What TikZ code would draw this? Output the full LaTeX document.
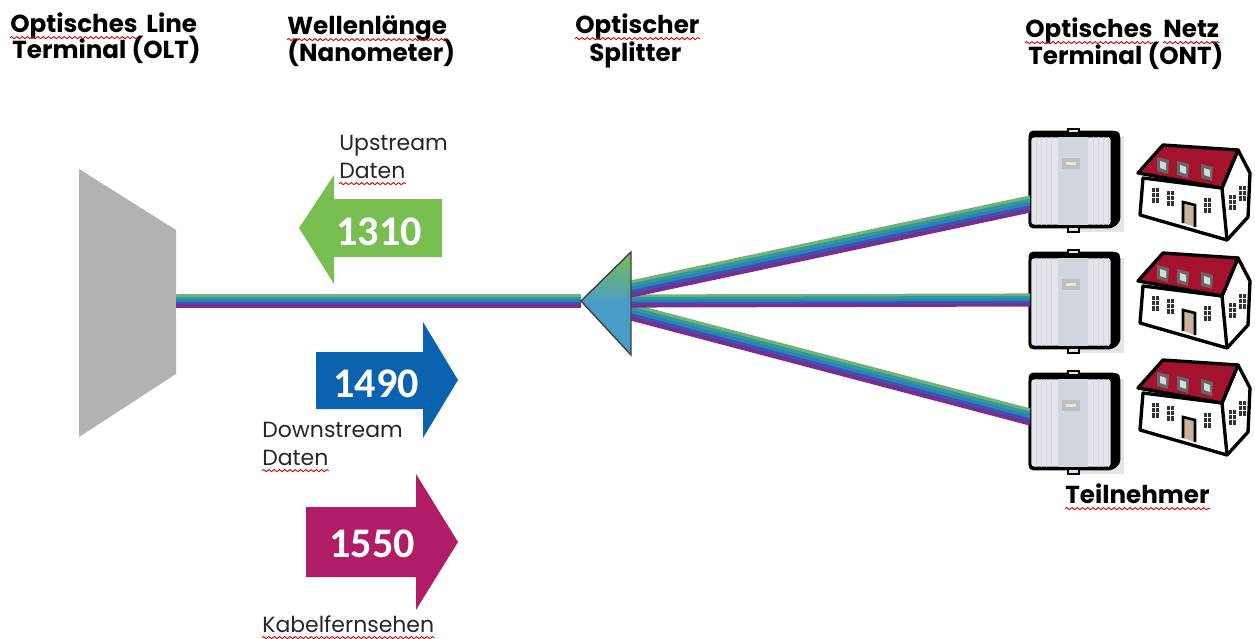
\documentclass[tikz,border=0pt]{standalone}
\usepackage{fontspec}
\setmainfont{Poppins}
\newfontfamily\numfont{Carlito}
\usepackage{xcolor}
\usetikzlibrary{calc, decorations.pathmorphing}
\definecolor{oltgray}{HTML}{B2B2B2}
\definecolor{upgreen}{HTML}{78BE50}
\definecolor{downblue}{HTML}{0B63B0}
\definecolor{tvmagenta}{HTML}{B01C66}
\definecolor{roofred}{HTML}{A5122E}
\definecolor{doorbrown}{HTML}{C8B39C}
\definecolor{ontgray}{HTML}{E4E6EB}
\definecolor{ontgrayb}{HTML}{D2D6DE}
\definecolor{splitblue}{HTML}{4A9CC8}
\definecolor{fibA}{HTML}{6FB27A}
\definecolor{fibB}{HTML}{2F9A98}
\definecolor{fibC}{HTML}{2E80BC}
\definecolor{fibD}{HTML}{3A55AE}
\definecolor{fibE}{HTML}{7A2C90}
\tikzset{
    head/.style={anchor=base west, inner sep=0, font=\fontsize{14}{16}\selectfont\bfseries, text=black},
    note/.style={anchor=base west, inner sep=0, font=\fontsize{12.5}{15}\selectfont, text=black!85},
    wavel/.style={inner sep=0, text=white, font=\fontsize{24}{28}\numfont\bfseries},
    spell/.style={draw=red!80!black, line width=0.5pt, decorate, decoration={snake, amplitude=0.6pt, segment length=3pt}},
    outl/.style={draw=black, line width=1.6pt, line join=round},
    ont/.pic={
        % Gehaeuse
        \fill[black!10] (5,-42) rectangle (50,53);
        \fill[outl, rounded corners=2pt] (-44,-47) -- (42,-47) -- (45,-44) -- (45,42) -- (38,48) -- (-44,48) -- cycle;
        \fill[outl, fill=ontgray, rounded corners=2pt] (-44,-43) rectangle (38,47);
        \fill[ontgrayb] (-16,-42) rectangle (14,46);
        \foreach \x in {-38,-33,-28,-23,19,24,29,34}
            \draw[ontgrayb, line width=0.5pt] (\x,-42) -- (\x,46);
        \fill[black!25] (-12,-21) rectangle (6,-10);
        \fill[white!90!black] (-8,-17) rectangle (2,-14);
        \draw[black, line width=0.9pt, fill=white!90!black] (-6,-50) rectangle (5,-46);
        \draw[black, line width=0.9pt, fill=white!90!black] (-6,48) rectangle (5,53);
        \coordinate (-port) at (-44,0);
    },
    house/.pic={
        % Giebel und Front
        \fill[outl, fill=white, line width=1.9pt] (8,1) -- (5,38) -- (92,63) -- (113,40) -- (115,-4) -- (103,-27) -- (87,11) -- cycle;
        \draw[black, line width=1.9pt] (87,11) -- (92,63);
        \fill[outl, fill=roofred, line width=1.9pt] (3,-4) -- (28,-32) -- (103,-27) -- (87,11) -- cycle;
        \foreach \x/\y in {28/-12, 48/-8, 72/-5}{
            \fill[black!60] (\x-6,\y-8) -- (\x+6,\y-5) -- (\x+5,\y+9) -- (\x-6,\y+6) -- cycle;
            \fill[white!85!black] (\x-3,\y-4) -- (\x+3,\y-2) -- (\x+3,\y+5) -- (\x-3,\y+3) -- cycle;
        }
        % Fenster
        \foreach \x/\y in {20/18, 35/21, 72/28, 97/25, 107/16}{
            \fill[black!80] (\x-3.5,\y-7.5) rectangle (\x+3.5,\y+7.5);
            \draw[white, line width=0.4pt] (\x-3.5,\y-2.5) -- (\x+3.5,\y-2.5) (\x-3.5,\y+2.5) -- (\x+3.5,\y+2.5) (\x,\y-7.5) -- (\x,\y+7.5);
        }
        % Tuer
        \draw[black, line width=1.5pt, fill=doorbrown] (48,46) -- (48,25) -- (60,28) -- (60,50);
    }
}
\begin{document}
\begin{tikzpicture}[x=0.02cm, y=-0.02cm]
    \useasboundingbox (0,0) rectangle (1255,639);

    % OLT
    \fill[oltgray] (79,169) -- (176,230) -- (176,374) -- (79,437) -- cycle;
    \coordinate (oltport) at (176,301);

    % Endgeraete
    \foreach \n/\y in {1/179, 2/300, 3/421}
        \pic (ont\n) at (1074,\y) {ont};
    \foreach \n/\y in {1/177, 2/285, 3/392}
        \pic (house\n) at (1135,\y) {house};

    % Splitter
    \coordinate (splitin) at (581,301);
    \coordinate (splitoutA) at (631,289);
    \coordinate (splitoutB) at (631,301);
    \coordinate (splitoutC) at (631,312);

    % Fasern
    \foreach \col/\off in {fibA/-5, fibB/-2.5, fibC/0, fibD/2.5, fibE/5}{
        \draw[\col, line width=1.8pt, transform canvas={yshift=-\off*0.567pt}] (oltport) -- (splitin);
        \draw[\col, line width=1.8pt, transform canvas={yshift=-\off*0.567pt}] (splitoutB) -- (ont2-port);
        \draw[\col, line width=2.3pt, transform canvas={yshift=-\off*0.75pt}] (splitoutA) -- ($(ont1-port)+(0,25)$);
        \draw[\col, line width=2.3pt, transform canvas={yshift=-\off*0.75pt}] (splitoutC) -- ($(ont3-port)+(0,-4)$);
    }
    \draw[black!75, line width=0.8pt, top color=upgreen, bottom color=splitblue, middle color=splitblue] (splitin) -- (631,252) -- (631,355) -- cycle;

    % Pfeile
    \fill[upgreen] (299,228) -- (334,175) -- (334,199) -- (442,199) -- (442,257) -- (334,257) -- (334,284) -- cycle;
    \fill[downblue] (316,352) -- (423,352) -- (423,322) -- (458,380) -- (423,438) -- (423,409) -- (316,409) -- cycle;
    \fill[tvmagenta] (306,507) -- (416,507) -- (416,474) -- (458,542) -- (416,610) -- (416,577) -- (306,577) -- cycle;
    \node[wavel] (up) at (379,232) {1310};
    \node[wavel] (down) at (376,384) {1490};
    \node[wavel] (tv) at (372,544) {1550};

    % Ueberschriften
    \node[head] (olta) at (10,32) {Optisches};
    \node[head] (oltc) at (146,32) {Line};
    \node[head] (oltb) at (12,58) {Terminal (OLT)};
    \node[head] (wla) at (287,34) {Wellenlänge};
    \node[head] (wlb) at (287,61) {(Nanometer)};
    \node[head] (spa) at (575,33) {Optischer};
    \node[head] (spb) at (589,61) {Splitter};
    \node[head] (onta) at (1025,37) {Optisches};
    \node[head] (ontc) at (1163,37) {Netz};
    \node[head] (ontb) at (1028,64) {Terminal (ONT)};
    \node[head] (tn) at (1065,503) {Teilnehmer};

    % Beschriftung
    \node[note] (usa) at (339,150) {Upstream};
    \node[note] (usb) at (339,178) {Daten};
    \node[note] (dsa) at (262,437) {Downstream};
    \node[note] (dsb) at (262,465) {Daten};
    \node[note] (kf) at (262,632) {Kabelfernsehen};

    % Wellenlinien
    \foreach \t in {olta, onta, ontc, wla, spa, tn, usb, dsb, kf}
        \draw[spell] ([yshift=-3.2pt]\t.base west) -- ([yshift=-3.2pt]\t.base east);
\end{tikzpicture}
\end{document}
